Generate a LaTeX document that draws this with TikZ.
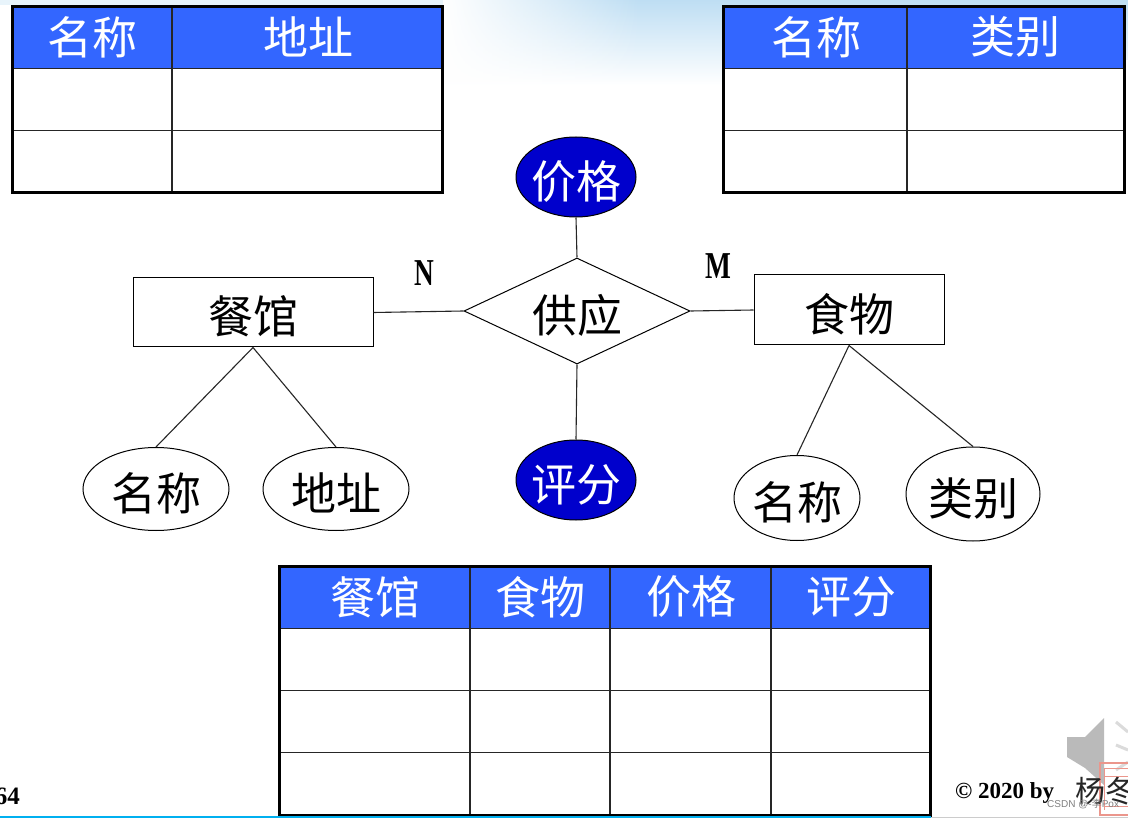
\documentclass[tikz,border=0pt]{standalone}
\usepackage{fontspec}
\setmainfont{Liberation Serif}
\newfontfamily\cjk{Noto Sans CJK SC}
\newfontfamily\sansf{Liberation Sans}
\usetikzlibrary{shapes.geometric,fadings}
\definecolor{headblue}{RGB}{51,102,255}
\definecolor{attrblue}{RGB}{0,0,204}
\definecolor{skyblue}{RGB}{190,222,243}
\definecolor{linecyan}{RGB}{0,176,240}
\definecolor{stampred}{RGB}{235,150,140}
\tikzset{
  cn/.style={font=\cjk\fontsize{45}{45}\selectfont,inner sep=0pt},
  er/.style={cn,draw=black,line width=1pt,text height=47.6pt,text depth=5.4pt},
  headcell/.style={cn,text=white},
  outerframe/.style={draw=black,line width=3pt},
  gridline/.style={draw=black!85,line width=1.3pt},
  entitybox/.style={er,fill=white,rectangle},
  relbox/.style={er,fill=white,diamond,aspect=2.1},
  attrwhite/.style={er,fill=white,ellipse,inner xsep=-3pt},
  attrdark/.style={er,fill=attrblue,text=white,ellipse,inner xsep=-3pt},
  link/.style={draw=black!85,line width=1.1pt},
  card/.style={font=\bfseries\fontsize{38}{38}\selectfont,inner sep=0pt,xscale=0.72},
}
\begin{document}
\begin{tikzpicture}[x=1pt,y=-1pt]
\useasboundingbox (0,0) rectangle (1128,818);
\fill[white] (0,0) rectangle (1128,818);
\clip (0,0) rectangle (1128,818);
\shade[top color=skyblue,bottom color=white] (443,0) rectangle (1128,85);
\shade[left color=white,right color=white,middle color=white,path fading=east] (443,0) rectangle (640,85);
\fill[skyblue!35] (0,0) rectangle (443,5);
% left table
\fill[headblue] (12,7) rectangle (442.5,68);
\fill[white] (12,68) rectangle (442.5,193);
\draw[gridline] (12,68.5) -- (442.5,68.5) (12,130.5) -- (442.5,130.5) (172,7) -- (172,193);
\draw[outerframe] (12,7) rectangle (442.5,193);
\node[headcell] (t1a) at (92,37) {名称};
\node[headcell] (t1b) at (308,37) {地址};
% right table
\fill[white] (723,60) rectangle (1128,193);
\fill[headblue] (723,7) rectangle (1124,68);
\draw[gridline] (723,68.5) -- (1124,68.5) (723,130.5) -- (1124,130.5) (907,7) -- (907,193);
\draw[outerframe] (723,7) rectangle (1124,193);
\node[headcell] (t2a) at (816,37) {名称};
\node[headcell] (t2b) at (1015,37) {类别};
% bottom table
\fill[headblue] (279,566) rectangle (930.5,628);
\draw[gridline] (279,628.5) -- (930.5,628.5) (279,690.5) -- (930.5,690.5) (279,752.5) -- (930.5,752.5)
  (470,566) -- (470,815) (610,566) -- (610,815) (771,566) -- (771,815);
\draw[outerframe] (279,566) rectangle (930.5,815);
\node[headcell] (t3a) at (375,597) {餐馆};
\node[headcell] (t3b) at (540,597) {食物};
\node[headcell] (t3c) at (691,597) {价格};
\node[headcell] (t3d) at (851,597) {评分};
% ER diagram
\node[entitybox,minimum width=240pt,minimum height=69pt] (rest) at (253,312.5) {餐馆};
\node[entitybox,minimum width=190pt,minimum height=70pt] (food) at (849,310) {食物};
\node[relbox,minimum width=226pt,minimum height=106pt] (rel) at (577,311) {供应};
\node[attrdark,minimum width=120pt,minimum height=80pt] (price) at (576,177) {价格};
\node[attrdark,minimum width=120pt,minimum height=80pt] (score) at (576,480) {评分};
\node[attrwhite,minimum width=146pt,minimum height=83pt] (a1) at (156,489) {名称};
\node[attrwhite,minimum width=146pt,minimum height=83pt] (a2) at (336,489) {地址};
\node[attrwhite,minimum width=126pt,minimum height=85pt] (a3) at (797,498) {名称};
\node[attrwhite,minimum width=134pt,minimum height=94pt] (a4) at (973,494) {类别};
\draw[link] (rest.east) -- (rel.west);
\draw[link] (food.west) -- (rel.east);
\draw[link] (price.south) -- (rel.north);
\draw[link] (score.north) -- (rel.south);
\draw[link] (rest.south) -- (a1.north);
\draw[link] (rest.south) -- (a2.north);
\draw[link] (food.south) -- (a3.north);
\draw[link] (food.south) -- (a4.north);
\node[card] (n) at (424,273) {N};
\node[card] (m) at (718,266) {M};
% footer
\node[font=\bfseries\fontsize{25}{25}\selectfont,inner sep=0pt,anchor=east] (pg) at (20,796) {64};
\fill[black!27] (1067,737) -- (1085,737) -- (1104,718) -- (1104,785) -- (1085,768) -- (1067,757) -- cycle;
\draw[black!14,line width=3pt] (1116,722) -- (1128,732) (1116,745) -- (1128,750) (1116,770) -- (1128,762);
\draw[stampred,line width=1.5pt] (1100,763) rectangle (1135,815);
\draw[stampred,line width=1pt] (1104,768) -- (1128,768) (1104,776) -- (1128,776) (1104,806) -- (1128,806) (1104,768) -- (1104,810);
\node[font=\bfseries\fontsize{23}{23}\selectfont,inner sep=0pt,anchor=west] (copy) at (955,793) {© 2020 by};
\node[font=\cjk\fontsize{30}{30}\selectfont,text=black!85,inner sep=0pt,anchor=west] (sig) at (1075,791) {杨冬};
\node[font=\sansf\fontsize{10}{10}\selectfont,text=black!50,inner sep=0pt,anchor=west] (wm) at (1047,804) {CSDN @-{\cjk 李}Pox};
\fill[linecyan] (0,816) rectangle (931,818);
\fill[black!20] (931,816.5) rectangle (1128,818);
\end{tikzpicture}
\end{document}
